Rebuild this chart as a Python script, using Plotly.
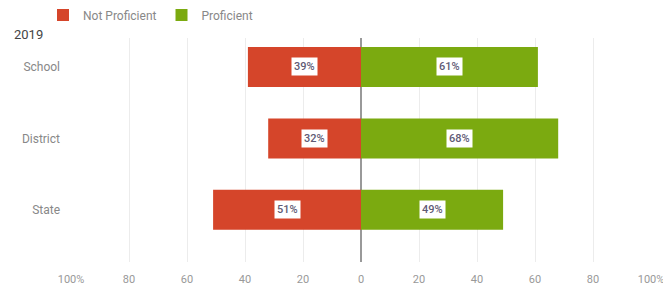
import plotly.graph_objects as go

categories = ["School", "District", "State"]
not_proficient = [39, 32, 51]
proficient = [61, 68, 49]
tick_vals = [-100, -80, -60, -40, -20, 0, 20, 40, 60, 80, 100]
tick_text = ["100%", "80", "60", "40", "20", "0", "20", "40", "60", "80", "100%"]
year_label = "2019"

RED = "#D5452A"
GREEN = "#7BAA10"
FONT = "Roboto, Open Sans, sans-serif"
# the page body has an 8px margin, so the figure is sized to fit the window
W, H = 663, 282
ML, MR, MT, MB = 63, 20, 30, 28

ypos = list(range(len(categories)))

fig = go.Figure()
fig.add_trace(go.Bar(
    y=ypos, x=[-v for v in not_proficient], orientation="h", name="Not Proficient",
    marker=dict(color=RED, line=dict(width=0)), width=0.56, hoverinfo="skip",
))
fig.add_trace(go.Bar(
    y=ypos, x=proficient, orientation="h", name="Proficient",
    marker=dict(color=GREEN, line=dict(width=0)), width=0.56, hoverinfo="skip",
))

annotations = []
for i, (n, p) in enumerate(zip(not_proficient, proficient)):
    for xv, v in ((-n / 2, n), (p / 2, p)):
        annotations.append(dict(
            x=xv, y=i, xref="x", yref="y", text=f"{v}%", showarrow=False,
            font=dict(family=FONT, size=11, color="#5f5b75", weight=500),
            bgcolor="white", borderpad=2,
        ))

pw, ph = W - ML - MR, H - MT - MB
annotations.append(dict(
    x=(4 - ML) / pw, y=(H - MB - 27) / ph, xref="paper", yref="paper",
    text=year_label, showarrow=False,
    font=dict(family=FONT, size=13, color="#444"), xanchor="left", yanchor="middle",
))

fig.update_layout(
    width=W, height=H,
    margin=dict(l=ML, r=MR, t=MT, b=MB, autoexpand=False),
    barmode="relative",
    plot_bgcolor="white", paper_bgcolor="white",
    font=dict(family=FONT, size=12, color="#888"),
    showlegend=True,
    legend=dict(
        orientation="h", xref="container", yref="container",
        x=35 / W, xanchor="left", y=1 - 7 / H, yanchor="middle",
        font=dict(family=FONT, size=12, color="#888"),
        traceorder="normal",
    ),
    xaxis=dict(
        range=[-100, 100], tickvals=tick_vals, ticktext=tick_text,
        showgrid=True, gridcolor="#ececec", gridwidth=1,
        zeroline=True, zerolinecolor="#999", zerolinewidth=1.5,
        showline=False, ticks="", ticklabelstandoff=9,
        tickfont=dict(size=11, color="#999"),
        fixedrange=True,
    ),
    yaxis=dict(
        range=[2.73, -0.405], tickvals=ypos, ticktext=categories,
        showgrid=False, zeroline=False, showline=False, ticks="",
        ticklabelstandoff=10, tickfont=dict(size=12, color="#888"),
        fixedrange=True,
    ),
    annotations=annotations,
)

fig.write_html("out.html")
